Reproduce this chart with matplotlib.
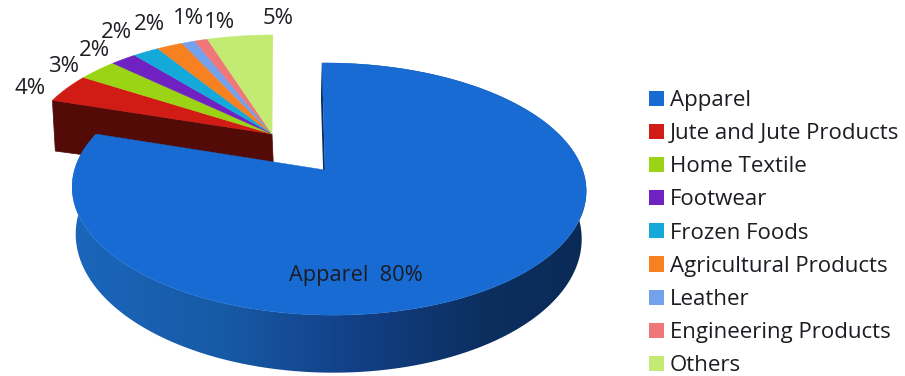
import numpy as np
import matplotlib
matplotlib.use("Agg")
import matplotlib.pyplot as plt
from matplotlib.colors import LinearSegmentedColormap
from matplotlib.patches import Patch, Polygon

categories = ["Apparel", "Jute and Jute Products", "Home Textile", "Footwear", "Frozen Foods",
              "Agricultural Products", "Leather", "Engineering Products", "Others"]
values = [80, 4, 3, 2, 2, 2, 1, 1, 5]
colors = ["#176bd2", "#d11b15", "#9bd415", "#6f21c1", "#14a9d8",
          "#f78121", "#74a1ec", "#f07778", "#c3eb74"]

# percent label centres for the pulled out slices, in pixels
label_pos = [(30, 89), (64, 66), (94, 51), (116, 33), (149, 24), (188, 19), (219, 22), (278, 19)]

plt.rcParams["font.family"] = ["Open Sans", "DejaVu Sans"]
text_color = "#1c1c22"

fig = plt.figure(figsize=(9.05, 3.76), dpi=100)
ax = fig.add_axes([0, 0, 1, 1])
ax.set_xlim(0, 905)
ax.set_ylim(376, 0)
ax.axis("off")


def project(deg, r, disc):
    # clockwise degrees from 12 o'clock -> screen, with simple perspective
    cx, cy, bx, ay, k, m, skew = disc
    t = np.radians(deg)
    u = r * np.sin(t)
    v = r * np.cos(t)
    w = 1 + k * v + m * u
    return np.column_stack([cx + (bx * u + skew * v) / w, cy - ay * v / w])


main_top = (325, 170, 254, 123.2, 0.151, -0.014, -3.5)
main_bot = (324.5, 216, 250, 133, 0.151, -0.014, -4)
group_top = (272, 134, 242, 114, 0.151, 0, 1)
group_bot = (274, 180, 241, 98, 0.151, 0, 1)

edges = 3.6 * np.cumsum([0] + values)

# wall of the pulled out group, sits behind the blue slice
g_rim_top = project(np.array([edges[1]]), 1, group_top)[0]
g_rim_bot = project(np.array([edges[1]]), 1, group_bot)[0]
ax.add_patch(Polygon([(group_top[0], group_top[1]), g_rim_top, g_rim_bot, (group_bot[0], group_bot[1])],
                     closed=True, fc="#520b07", ec="#520b07", lw=0.5, zorder=1))

# top faces of the group
for i in range(1, len(values)):
    arc = project(np.linspace(edges[i], edges[i + 1], 40), 1, group_top)
    ax.add_patch(Polygon(np.vstack([[group_top[0], group_top[1]], arc]), closed=True,
                         fc=colors[i], ec=colors[i], lw=0.3, zorder=2))

# blue slice: outer wall filled with a left to right shade
wall_cmap = LinearSegmentedColormap.from_list(
    "wall", [(0, "#1b67bd"), (0.3, "#175aa6"), (0.55, "#123f85"), (0.78, "#0c2f60"), (1, "#0a2a55")])
ang = np.linspace(edges[0], edges[1], 400)
a_top = project(ang, 1, main_top)
a_bot = project(ang, 1, main_bot)
wall = Polygon(np.vstack([a_top, a_bot[::-1]]), closed=True, fc="none", ec="none",
               transform=ax.transData, zorder=3)
ax.add_patch(wall)
gradient = np.linspace(0, 1, 256).reshape(1, -1)
shade_img = ax.imshow(gradient, cmap=wall_cmap, extent=(60, 600, 376, 0), aspect="auto",
                      interpolation="bilinear", zorder=3)
shade_img.set_clip_path(wall)
ax.set_xlim(0, 905)
ax.set_ylim(376, 0)

# inner wall seen as a sliver next to the notch
ax.add_patch(Polygon([(main_top[0], main_top[1]), project(np.array([0.0]), 1, main_top)[0],
                      project(np.array([0.0]), 1, main_bot)[0], (main_bot[0], main_bot[1])],
                     closed=True, fc="#0b2c58", ec="none", zorder=3))

arc = project(np.linspace(edges[0], edges[1], 300), 1, main_top)
ax.add_patch(Polygon(np.vstack([[main_top[0], main_top[1]], arc]), closed=True,
                     fc=colors[0], ec=colors[0], lw=0.3, zorder=4))

ax.text(356, 275, f"{categories[0]}  {values[0]}%", ha="center", va="center",
        fontsize=15.7, color=text_color, zorder=5)
for (x, y), val in zip(label_pos, values[1:]):
    ax.text(x, y, f"{val}%", ha="center", va="center", fontsize=16, color=text_color, zorder=5)

handles = [Patch(fc=c, ec="none") for c in colors]
ax.legend(handles, categories, loc="upper left", bbox_to_anchor=(649 / 905, 1 - 90 / 376),
          frameon=False, prop={"size": 16}, labelcolor=text_color, borderpad=0, borderaxespad=0,
          handlelength=0.67, handleheight=0.67, handletextpad=0.27, labelspacing=0.547)

fig.savefig("out.png", dpi=100)
